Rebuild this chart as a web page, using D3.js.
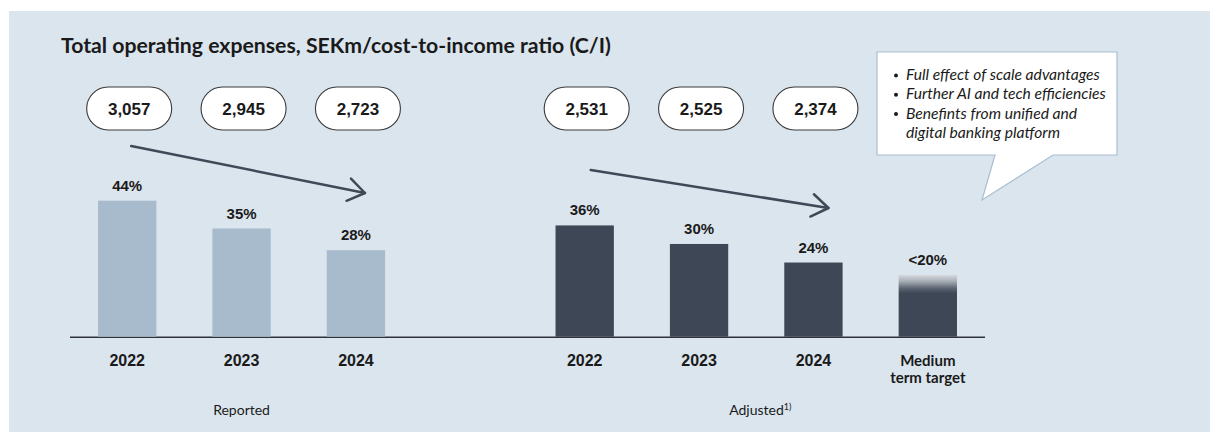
<!DOCTYPE html>
<html>
<head>
<meta charset="utf-8">
<script src="https://cdn.jsdelivr.net/npm/d3@7"></script>
<style>
  html, body { margin: 0; padding: 0; background: #ffffff; }
  svg { display: block; }
</style>
</head>
<body>
<svg id="chart" width="1210" height="432"></svg>
<script>
// ---- data ----
const reportedYears = ["2022", "2023", "2024"];
const reportedRatio = [44, 35, 28];
const reportedExpenses = [3057, 2945, 2723];

const adjustedYears = ["2022", "2023", "2024", "Medium term target"];
const adjustedRatio = [36, 30, 24, 20];
const adjustedRatioLabels = ["36%", "30%", "24%", "<20%"];
const adjustedExpenses = [2531, 2525, 2374];

const groupLabels = ["Reported", "Adjusted"];
const titleText = "Total operating expenses, SEKm/cost-to-income ratio (C/I)";
const calloutLines = [
  { bullet: true,  text: "Full effect of scale advantages" },
  { bullet: true,  text: "Further AI and tech efficiencies" },
  { bullet: true,  text: "Benefints from unified and" },
  { bullet: false, text: "digital banking platform" }
];

// ---- layout ----
const W = 1210, H = 432;
const baseY = 336.7;
const svg = d3.select("#chart");
const colors = { panel: "#dae5ee", reported: "#a8bbcc", adjusted: "#3e4756", arrow: "#3f4958", ink: "#1a1a1a" };
const arial = "'Liberation Sans', Arial, sans-serif";
const humanist = "Lato, 'Open Sans', sans-serif";

// slot 3 is left empty to separate the two groups
const slotsReported = [0, 1, 2];
const slotsAdjusted = [4, 5, 6, 7];
const x = d3.scaleBand().domain(d3.range(8)).range([70, 985]).paddingInner(0.49).paddingOuter(0.245);
const y = d3.scaleLinear().domain([0, 44]).range([baseY, 200.7]);
const fmt = d3.format(",");
const cx = s => x(s) + x.bandwidth() / 2;

// background panel
svg.append("rect").attr("x", 9).attr("y", 11).attr("width", W - 9).attr("height", H - 11).attr("fill", colors.panel);

// title, fitted to its width
const title = svg.append("text").attr("x", 61).attr("y", 53)
  .attr("font-family", humanist).attr("font-weight", 700).attr("font-size", 20)
  .attr("fill", colors.ink).text(titleText);
{
  const w = title.node().getComputedTextLength();
  title.attr("font-size", 20 * 550 / w);
}

// gradient for the target bar
const defs = svg.append("defs");
const grad = defs.append("linearGradient").attr("id", "targetFade").attr("x1", 0).attr("x2", 0).attr("y1", 0).attr("y2", 1);
[[0, "#d6dade"], [0.1, "#aab0b8"], [0.22, "#5a6370"], [0.3, colors.adjusted], [1, colors.adjusted]]
  .forEach(([o, c]) => grad.append("stop").attr("offset", o).attr("stop-color", c));

// baseline
svg.append("line").attr("x1", x.range()[0]).attr("x2", x.range()[1]).attr("y1", baseY + 0.5).attr("y2", baseY + 0.5)
  .attr("stroke", "#2f3238").attr("stroke-width", 1.5);

// bars
const reportedData = reportedRatio.map((v, i) => ({ slot: slotsReported[i], v, label: v + "%", year: reportedYears[i] }));
const adjustedData = adjustedRatio.map((v, i) => ({ slot: slotsAdjusted[i], v, label: adjustedRatioLabels[i], year: adjustedYears[i], target: i === 3 }));

svg.selectAll("rect.rep").data(reportedData).join("rect").attr("class", "rep")
  .attr("x", d => x(d.slot)).attr("width", x.bandwidth())
  .attr("y", d => y(d.v)).attr("height", d => baseY - y(d.v))
  .attr("fill", colors.reported);

svg.selectAll("rect.adj").data(adjustedData).join("rect").attr("class", "adj")
  .attr("x", d => x(d.slot)).attr("width", x.bandwidth())
  .attr("y", d => y(d.v)).attr("height", d => baseY - y(d.v))
  .attr("fill", d => d.target ? "url(#targetFade)" : colors.adjusted);

// value labels
const allBars = reportedData.concat(adjustedData);
svg.selectAll("text.val").data(allBars).join("text").attr("class", "val")
  .attr("x", d => cx(d.slot)).attr("y", d => y(d.v) - 10)
  .attr("text-anchor", "middle").attr("font-family", arial).attr("font-weight", 700).attr("font-size", 15)
  .attr("fill", colors.ink).text(d => d.label);

// category labels
svg.selectAll("text.year").data(allBars.filter(d => !d.target)).join("text").attr("class", "year")
  .attr("x", d => cx(d.slot)).attr("y", 366)
  .attr("text-anchor", "middle").attr("font-family", arial).attr("font-weight", 700).attr("font-size", 16)
  .attr("fill", colors.ink).text(d => d.year);

const tgt = adjustedData[3];
const tgtWords = tgt.year.split(" ");
svg.append("text").attr("x", cx(tgt.slot)).attr("y", 366).attr("text-anchor", "middle")
  .attr("font-family", humanist).attr("font-weight", 700).attr("font-size", 15).attr("fill", colors.ink)
  .selectAll("tspan").data([tgtWords[0], tgtWords.slice(1).join(" ")]).join("tspan")
  .attr("x", cx(tgt.slot)).attr("dy", (d, i) => i ? 16.5 : 0).text(d => d);

// expense pills
const pills = reportedExpenses.map((v, i) => ({ slot: slotsReported[i], v }))
  .concat(adjustedExpenses.map((v, i) => ({ slot: slotsAdjusted[i], v })));
const pillW = 85, pillH = 43, pillY = 108.5;
const pg = svg.selectAll("g.pill").data(pills).join("g").attr("class", "pill")
  .attr("transform", d => `translate(${cx(d.slot) + 2},${pillY})`);
pg.append("rect").attr("x", -pillW / 2).attr("y", -pillH / 2).attr("width", pillW).attr("height", pillH)
  .attr("rx", pillH / 2).attr("fill", "#ffffff").attr("stroke", "#3a3a3a").attr("stroke-width", 1.1);
pg.append("text").attr("text-anchor", "middle").attr("dy", "0.36em")
  .attr("font-family", arial).attr("font-weight", 700).attr("font-size", 17).attr("fill", colors.ink)
  .text(d => fmt(d.v));

// trend arrows
function arrow(x1, y1, x2, y2) {
  const ang = Math.atan2(y2 - y1, x2 - x1), len = 20, spread = 0.6;
  const g = svg.append("g").attr("stroke", colors.arrow).attr("stroke-width", 2.5).attr("fill", "none")
    .attr("stroke-linecap", "round").attr("stroke-linejoin", "round");
  g.append("line").attr("x1", x1).attr("y1", y1).attr("x2", x2).attr("y2", y2);
  g.append("path").attr("d", d3.line()([
    [x2 - len * Math.cos(ang - spread), y2 - len * Math.sin(ang - spread)],
    [x2, y2],
    [x2 - len * Math.cos(ang + spread), y2 - len * Math.sin(ang + spread)]
  ]));
}
arrow(cx(slotsReported[0]) + 4, 146, cx(slotsReported[2]) + 9, 193);
arrow(cx(slotsAdjusted[0]) + 6, 170, cx(slotsAdjusted[2]) + 15, 208);

// group labels
svg.append("text").attr("x", cx(slotsReported[1])).attr("y", 415).attr("text-anchor", "middle")
  .attr("font-family", humanist).attr("font-size", 14).attr("fill", colors.ink).text(groupLabels[0]);
const adj = svg.append("text").attr("x", (cx(slotsAdjusted[0]) + cx(slotsAdjusted[3])) / 2 + 4).attr("y", 415)
  .attr("text-anchor", "middle").attr("font-family", humanist).attr("font-size", 14).attr("fill", colors.ink);
adj.append("tspan").text(groupLabels[1]);
adj.append("tspan").attr("font-size", 9).attr("dy", -5).text("1)");

// callout box with pointer
const box = { x: 877, y: 52, w: 240, h: 103 };
const tip = [982, 200];
const callout = d3.path();
callout.moveTo(box.x, box.y);
callout.lineTo(box.x + box.w, box.y);
callout.lineTo(box.x + box.w, box.y + box.h);
callout.lineTo(1053, box.y + box.h);
callout.lineTo(tip[0], tip[1]);
callout.lineTo(995, box.y + box.h);
callout.lineTo(box.x, box.y + box.h);
callout.closePath();
svg.append("path").attr("d", callout.toString()).attr("fill", "#ffffff").attr("stroke", "#a9bed1").attr("stroke-width", 1.2);

const ct = svg.append("g").attr("font-family", humanist).attr("font-style", "italic").attr("font-size", 14).attr("fill", colors.ink);
const lines = ct.selectAll("text").data(calloutLines).join("text")
  .attr("x", 906).attr("y", (d, i) => 80 + i * 19.3).text(d => d.text);
{
  const w = lines.nodes()[0].getComputedTextLength();
  ct.attr("font-size", 14 * 194 / w);
}
ct.selectAll("circle").data(calloutLines.filter(d => d.bullet)).join("circle")
  .attr("cx", 896).attr("cy", (d, i) => 75.5 + i * 19.3).attr("r", 2).attr("fill", colors.ink);
</script>
</body>
</html>
